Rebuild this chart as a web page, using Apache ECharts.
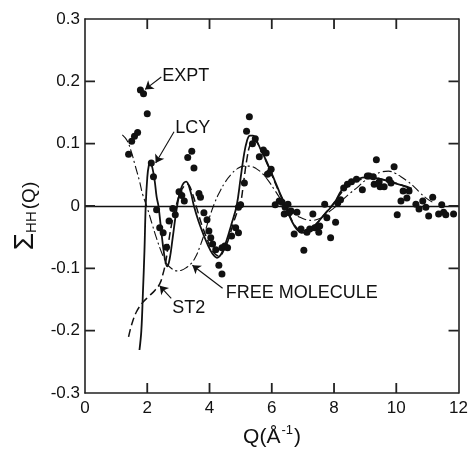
<!DOCTYPE html>
<html>
<head>
<meta charset="utf-8">
<script src="https://cdn.jsdelivr.net/npm/echarts@6/dist/echarts.min.js"></script>
<style>
html, body { margin: 0; padding: 0; background: #fff; }
#chart { width: 471px; height: 453px; }
</style>
</head>
<body>
<div id="chart"></div>
<script>
// tick values and labels
const xTicks = [0, 2, 4, 6, 8, 10, 12];
const xTickLabels = ["0", "2", "4", "6", "8", "10", "12"];
const yTicks = [-0.3, -0.2, -0.1, 0, 0.1, 0.2, 0.3];
const yTickLabels = ["-0.3", "-0.2", "-0.1", "0", "0.1", "0.2", "0.3"];

// measured points (EXPT)
const exptQ = [1.40,1.50,1.59,1.69,1.78,1.88,2.00,2.13,2.20,2.30,2.40,2.51,2.62,2.70,2.82,2.90,
  3.02,3.11,3.19,3.30,3.43,3.50,3.66,3.71,3.82,3.92,3.98,4.04,4.10,4.20,4.30,4.40,4.40,4.49,4.58,
  4.71,4.84,4.93,4.93,5.00,5.12,5.19,5.28,5.38,5.47,5.60,5.73,5.82,5.86,5.92,5.98,6.11,6.24,6.33,
  6.40,6.43,6.52,6.56,6.62,6.72,6.81,6.94,7.03,7.13,7.22,7.32,7.38,7.51,7.54,7.70,7.77,7.89,8.05,
  8.12,8.21,8.31,8.43,8.56,8.72,8.91,9.07,9.13,9.26,9.29,9.36,9.45,9.48,9.61,9.77,9.83,9.93,10.03,
  10.15,10.22,10.34,10.41,10.63,10.73,10.85,10.95,11.04,11.17,11.36,11.46,11.52,11.59,11.84];
const exptS = [0.083,0.104,0.112,0.118,0.186,0.180,0.148,0.069,0.047,-0.006,-0.035,-0.043,-0.066,-0.024,-0.004,-0.014,
  0.023,0.017,0.008,0.078,0.088,0.061,0.020,0.014,-0.011,-0.022,-0.040,-0.051,-0.061,-0.070,-0.095,-0.109,-0.067,-0.064,-0.067,
  -0.048,-0.035,-0.043,-0.002,0.002,0.037,0.120,0.143,0.100,0.108,0.079,0.090,0.085,0.051,0.053,0.059,0.002,0.008,0.006,
  -0.013,-0.002,0.003,-0.011,-0.008,-0.045,-0.010,-0.037,-0.071,-0.042,-0.037,-0.013,-0.035,-0.042,-0.032,0.003,-0.019,-0.051,-0.026,
  0.005,0.010,0.029,0.035,0.039,0.043,0.026,0.048,0.048,0.047,0.035,0.074,0.039,0.031,0.031,0.042,0.037,0.063,-0.014,
  0.008,0.024,0.013,0.024,0.003,-0.005,0.008,-0.002,-0.016,0.014,-0.013,0.002,-0.010,-0.014,-0.013];

// LCY (solid)
const lcyQ = [1.75,1.81,1.86,1.91,1.95,2.0,2.05,2.1,2.17,2.24,2.3,2.36,2.45,2.55,2.64,2.72,2.82,2.96,3.1,3.25,
  3.38,3.5,3.65,3.8,3.95,4.1,4.24,4.4,4.55,4.7,4.87,5.0,5.1,5.2,5.3,5.4,5.5,5.65,5.8,5.95,
  6.1,6.25,6.4,6.5,6.65,6.8,6.95,7.1,7.3,7.5,7.7,7.9,8.05,8.2,8.35,8.55,8.75,9.0,9.3,9.6,9.9,10.2,10.5];
const lcyS = [-0.231,-0.2,-0.14,-0.072,0.0,0.045,0.065,0.069,0.06,0.04,0.015,0.0,-0.04,-0.08,-0.097,-0.085,-0.05,0.0,0.03,0.039,
  0.025,0.0,-0.025,-0.045,-0.063,-0.077,-0.083,-0.075,-0.055,-0.03,0.0,0.045,0.08,0.104,0.113,0.113,0.106,0.09,0.075,0.058,
  0.04,0.022,0.005,-0.008,-0.025,-0.037,-0.043,-0.042,-0.035,-0.025,-0.013,-0.002,0.008,0.022,0.032,0.038,0.043,0.046,0.045,0.042,0.037,0.033,0.028];

// ST2 (dashed)
const st2Q = [1.4,1.5,1.65,1.85,2.05,2.25,2.4,2.5,2.6,2.68,2.78,2.9,3.05,3.2,3.3,3.45,3.6,3.75,3.9,4.05,
  4.2,4.32,4.45,4.6,4.75,4.9,5.0,5.1,5.2,5.3,5.42,5.55,5.7,5.85,6.0,6.15,6.3,6.45,6.6,6.75,
  6.95,7.15,7.35,7.55,7.75,7.95,8.1,8.25,8.45,8.7,9.0,9.3,9.6,9.9,10.2,10.5];
const st2S = [-0.21,-0.19,-0.17,-0.155,-0.145,-0.135,-0.125,-0.11,-0.088,-0.06,-0.03,-0.005,0.02,0.033,0.035,0.02,-0.005,-0.03,-0.05,-0.068,
  -0.078,-0.08,-0.072,-0.055,-0.03,-0.008,0.005,0.04,0.075,0.098,0.107,0.1,0.085,0.068,0.05,0.032,0.015,0.0,-0.018,-0.032,
  -0.04,-0.04,-0.033,-0.022,-0.01,0.002,0.012,0.022,0.032,0.04,0.044,0.045,0.042,0.038,0.033,0.027];

// FREE MOLECULE (dash-dot)
const freeQ = [1.2,1.35,1.5,1.6,1.75,1.85,2.0,2.15,2.3,2.48,2.65,2.8,2.95,3.1,3.25,3.4,3.55,3.7,3.85,4.0,
  4.15,4.3,4.5,4.7,4.9,5.1,5.3,5.5,5.7,5.9,6.1,6.3,6.5,6.7,6.9,7.1,7.3,7.5,7.7,7.9,
  8.1,8.3,8.5,8.75,9.0,9.3,9.55,9.75,9.95,10.15,10.35,10.55,10.75,10.95,11.2];
const freeS = [0.114,0.105,0.085,0.067,0.04,0.019,-0.003,-0.028,-0.052,-0.077,-0.094,-0.101,-0.104,-0.103,-0.099,-0.093,-0.082,-0.064,-0.042,-0.018,
  0.003,0.02,0.038,0.051,0.06,0.064,0.064,0.06,0.052,0.04,0.025,0.01,-0.003,-0.012,-0.018,-0.022,-0.023,-0.021,-0.015,-0.007,
  0.001,0.011,0.02,0.03,0.041,0.05,0.055,0.056,0.053,0.047,0.04,0.032,0.022,0.013,0.005];

// annotation text [label, Q, value] and arrows [fromQ, fromV, toQ, toV]
const noteText = [["EXPT", 2.48, 0.209], ["LCY", 2.9, 0.125], ["ST2", 2.8, -0.164], ["FREE MOLECULE", 4.52, -0.14]];
const noteArrows = [[2.45, 0.207, 1.93, 0.187], [2.86, 0.119, 2.27, 0.069], [2.77, -0.148, 2.40, -0.128], [4.42, -0.132, 3.45, -0.095]];

const zip = (a, b) => a.map((v, i) => [v, b[i]]);
const ink = "#111";
const font = "Liberation Sans";
const frame = () => ({ color: "#222", width: 1.6 });

const option = {
  animation: false,
  backgroundColor: "#fff",
  grid: { left: 85, right: 9, top: 19, bottom: 60 },
  xAxis: [
    {
      type: "value", min: 0, max: 12, interval: 2, position: "bottom",
      axisLine: { show: true, onZero: false, lineStyle: frame() },
      axisTick: { show: false },
      axisLabel: { margin: 7, fontSize: 17, fontFamily: font, color: ink,
        formatter: (v) => xTickLabels[xTicks.indexOf(v)] },
      splitLine: { show: false },
    },
    {
      type: "value", min: 0, max: 12, interval: 2, position: "top",
      axisLine: { show: true, onZero: false, lineStyle: frame() },
      axisTick: { show: false },
      axisLabel: { show: false },
      splitLine: { show: false },
    },
  ],
  yAxis: [
    {
      type: "value", min: -0.3, max: 0.3, interval: 0.1, position: "left",
      axisLine: { show: true, onZero: false, lineStyle: frame() },
      axisTick: { show: false },
      axisLabel: { margin: 5, fontSize: 17, fontFamily: font, color: ink,
        formatter: (v) => yTickLabels[Math.round((v + 0.3) * 10)] },
      splitLine: { show: false },
    },
    {
      type: "value", min: -0.3, max: 0.3, interval: 0.1, position: "right",
      axisLine: { show: true, onZero: false, lineStyle: frame() },
      axisTick: { show: false },
      axisLabel: { show: false },
      splitLine: { show: false },
    },
  ],
  series: [
    {
      name: "FREE MOLECULE", type: "line", data: zip(freeQ, freeS),
      smooth: 0.4, showSymbol: false, z: 2,
      lineStyle: { color: ink, width: 1.1, type: [9, 3, 2, 3] },
    },
    {
      name: "ST2", type: "line", data: zip(st2Q, st2S),
      smooth: 0.4, showSymbol: false, z: 2,
      lineStyle: { color: ink, width: 1.5, type: [8, 4] },
    },
    {
      name: "LCY", type: "line", data: zip(lcyQ, lcyS),
      smooth: 0.4, showSymbol: false, z: 3,
      lineStyle: { color: ink, width: 1.8 },
      markLine: {
        silent: true, animation: false,
        symbol: ["none", "arrow"], symbolSize: 8,
        label: { show: false },
        lineStyle: { color: ink, width: 1.1, type: "solid" },
        data: noteArrows.map((a) => [{ coord: [a[0], a[1]] }, { coord: [a[2], a[3]] }]),
      },
    },
    {
      name: "EXPT", type: "scatter", data: zip(exptQ, exptS),
      symbolSize: 7, z: 4,
      itemStyle: { color: ink, opacity: 1 },
      markLine: {
        silent: true, animation: false, symbol: "none",
        label: { show: false },
        lineStyle: { color: ink, width: 1.4, type: "solid" },
        data: [{ yAxis: 0 }],
      },
    },
  ],
};

const chart = echarts.init(document.getElementById("chart"));
chart.setOption(option);

const px = (q, v) => chart.convertToPixel({ gridIndex: 0 }, [q, v]);
const fromPx = (x, y) => chart.convertFromPixel({ gridIndex: 0 }, [x, y]);

// inward ticks: tick length of 10 px turned into data units through the axis scales
const tickLen = 10;
const p00 = px(0, 0);
const dx = fromPx(p00[0] + tickLen, p00[1])[0];
const dy = 0 - fromPx(p00[0], p00[1] - tickLen)[1] * -1;
const qMin = xTicks[0], qMax = xTicks[xTicks.length - 1];
const vMin = yTicks[0], vMax = yTicks[yTicks.length - 1];
const tickData = [];
xTicks.slice(1, -1).forEach((q) => {
  tickData.push([q, vMin], [q, vMin + Math.abs(dy)], [q, "-"]);
  tickData.push([q, vMax], [q, vMax - Math.abs(dy)], [q, "-"]);
});
yTicks.slice(1, -1).forEach((v) => {
  tickData.push([qMin, v], [qMin + dx, v], [qMin, "-"]);
  tickData.push([qMax, v], [qMax - dx, v], [qMax, "-"]);
});

const graphics = [];
noteText.forEach((n) => {
  const p = px(n[1], n[2]);
  graphics.push({
    type: "text", x: p[0], y: p[1],
    style: { text: n[0], fontSize: 18, fontFamily: font, fill: ink, align: "left", verticalAlign: "middle" },
  });
});
graphics.push({
  type: "text", x: 24, y: 216, rotation: Math.PI / 2,
  style: {
    text: "{a|Σ}{b|HH}{c|(Q)}", align: "center", verticalAlign: "middle", fill: ink,
    rich: {
      a: { fontSize: 28, fontFamily: font, fill: ink, lineHeight: 30, verticalAlign: "bottom" },
      b: { fontSize: 15, fontFamily: font, fill: ink, lineHeight: 30, verticalAlign: "bottom", padding: [8, 0, 0, 0] },
      c: { fontSize: 19, fontFamily: font, fill: ink, lineHeight: 30, verticalAlign: "bottom", padding: [0, 0, 0, 2] },
    },
  },
});
graphics.push({
  type: "text", x: 272, y: 437,
  style: {
    text: "{a|Q(Å}{b|-1}{a|)}", align: "center", verticalAlign: "middle", fill: ink,
    rich: {
      a: { fontSize: 21, fontFamily: font, fill: ink, lineHeight: 26 },
      b: { fontSize: 13, fontFamily: font, fill: ink, lineHeight: 26, verticalAlign: "top", padding: [0, 1, 10, 1] },
    },
  },
});

chart.setOption({
  series: [{}, {}, {}, {}, {
    name: "ticks", type: "line", data: tickData, connectNulls: false,
    showSymbol: false, silent: true, z: 6, clip: false,
    lineStyle: { color: "#222", width: 1.8, type: "solid" },
  }],
  graphic: graphics,
});
</script>
</body>
</html>
